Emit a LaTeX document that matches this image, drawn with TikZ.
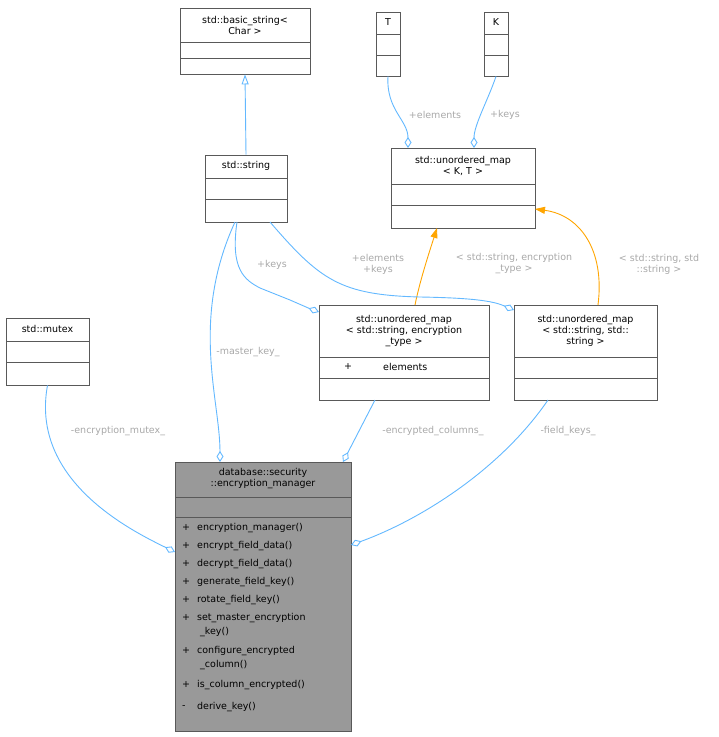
\documentclass[tikz,border=0pt]{standalone}
\usepackage{fontspec}
\setmainfont{DejaVu Sans}
\usetikzlibrary{arrows.meta}
\definecolor{edgeblue}{HTML}{63B8FF}
\definecolor{lblgray}{HTML}{A8A8A8}
\definecolor{boxgray}{HTML}{999999}
\definecolor{inhorange}{HTML}{FFA500}
\tikzset{
  cls/.style={draw=black!65, fill=white, inner sep=0pt, line width=0.8pt},
  ttl/.style={align=center, inner sep=0pt, font=\fontsize{9.5}{11}\selectfont},
  lbl/.style={align=center, inner sep=0pt, text=lblgray, font=\fontsize{9.5}{11}\selectfont},
  memb/.style={anchor=west, inner sep=0pt, font=\fontsize{9.5}{11}\selectfont},
  uses/.style={draw=edgeblue, line width=0.9pt, -{Diamond[open,length=11pt,width=7pt]}},
  inh/.style={draw=edgeblue, line width=0.9pt, -{Triangle[open,length=10pt,width=7pt]}},
  tmpl/.style={draw=inhorange, line width=0.9pt, -{Triangle[fill=inhorange,length=10pt,width=7pt]}}
}
\begin{document}
\begin{tikzpicture}[x=1pt,y=-1pt]
\useasboundingbox (0,0) rectangle (719,737);
% classes
\node[cls, minimum width=130, minimum height=66] (bstr) at (245,41) {};
\node[ttl] at (245,25) {std::basic\_string<\\Char >};
\draw[black!65, line width=0.8pt] (180,42) -- (310,42) (180,58) -- (310,58);

\node[cls, minimum width=82, minimum height=67] (str) at (246,188.5) {};
\node[ttl] at (246,166) {std::string};
\draw[black!65, line width=0.8pt] (205,178) -- (287,178) (205,199) -- (287,199);

\node[cls, minimum width=24, minimum height=64] (tt) at (388,44) {};
\node[ttl] at (388,22) {T};
\draw[black!65, line width=0.8pt] (376,34) -- (400,34) (376,55) -- (400,55);

\node[cls, minimum width=24, minimum height=64] (kk) at (496,44) {};
\node[ttl] at (496,22) {K};
\draw[black!65, line width=0.8pt] (484,34) -- (508,34) (484,55) -- (508,55);

\node[cls, minimum width=144, minimum height=80] (umap) at (463,188) {};
\node[ttl] at (463,166) {std::unordered\_map\\< K, T >};
\draw[black!65, line width=0.8pt] (391,184) -- (535,184) (391,205) -- (535,205);

\node[cls, minimum width=83, minimum height=67] (mtx) at (47.5,351.5) {};
\node[ttl] at (47.5,329) {std::mutex};
\draw[black!65, line width=0.8pt] (6,341) -- (89,341) (6,362) -- (89,362);

\node[cls, minimum width=170, minimum height=95] (encmap) at (404,352.5) {};
\node[ttl] at (404,331) {std::unordered\_map\\< std::string, encryption\\\_type >};
\draw[black!65, line width=0.8pt] (319,357) -- (489,357) (319,378) -- (489,378);
\node[memb] at (344,367) {+};
\node[memb] at (383,367) {elements};

\node[cls, minimum width=143, minimum height=95] (strmap) at (585.5,352.5) {};
\node[ttl] at (585.5,331) {std::unordered\_map\\< std::string, std::\\string >};
\draw[black!65, line width=0.8pt] (514,357) -- (657,357) (514,378) -- (657,378);

\node[cls, fill=boxgray, minimum width=176, minimum height=269] (mgr) at (263,596.5) {};
\node[ttl] at (263,479) {database::security\\::encryption\_manager};
\draw[black!65, line width=0.8pt] (175,497) -- (351,497) (175,517) -- (351,517);
\foreach \y/\s/\t in {528/+/encryption\_manager(), 546/+/encrypt\_field\_data(),
  564/+/decrypt\_field\_data(), 582/+/generate\_field\_key(), 600/+/rotate\_field\_key(),
  618/+/set\_master\_encryption, 632//\ \_key(), 651/+/configure\_encrypted,
  665//\ \_column(), 685/+/is\_column\_encrypted(), 707/-/derive\_key()}
{
  \node[memb] at (182,\y) {\s};
  \node[memb] at (197,\y) {\t};
}

% connectors
\draw[inh] (str.north) -- (bstr.south);
\draw[uses] (tt.south) .. controls (386,110) and (408,120) .. (408,148);
\node[lbl] at (435,115) {+elements};
\draw[uses] (kk.south) .. controls (488,100) and (474,125) .. (474,148);
\node[lbl] at (505,115) {+keys};
\draw[tmpl] (415,305) .. controls (420,280) and (430,250) .. (437,228);
\node[lbl] at (514,264) {< std::string, encryption\\\_type >};
\draw[tmpl] (598,305) .. controls (605,250) and (580,215) .. (535,209);
\node[lbl] at (659,264) {< std::string, std\\::string >};
\draw[uses] (237,222) .. controls (230,270) and (245,280) .. (260,288) -- (290,300) .. controls (300,305) .. (319,312);
\node[lbl] at (272,265) {+keys};
\draw[uses] (270,222) .. controls (320,280) and (340,295) .. (420,297) .. controls (480,298) and (495,302) .. (514,310);
\node[lbl] at (378,264) {+elements\\+keys};
\draw[uses] (235,222) .. controls (190,320) and (220,400) .. (220,462);
\node[lbl] at (248,352) {-master\_key\_};
\draw[uses] (mtx.south) .. controls (30,480) and (130,530) .. (175,552);
\node[lbl] at (118,431) {-encryption\_mutex\_};
\draw[uses] (375,400) -- (343,462);
\node[lbl] at (433,431) {-encrypted\_columns\_};
\draw[uses] (548,400) .. controls (500,470) and (420,520) .. (351,545);
\node[lbl] at (568,431) {-field\_keys\_};
\end{tikzpicture}
\end{document}
